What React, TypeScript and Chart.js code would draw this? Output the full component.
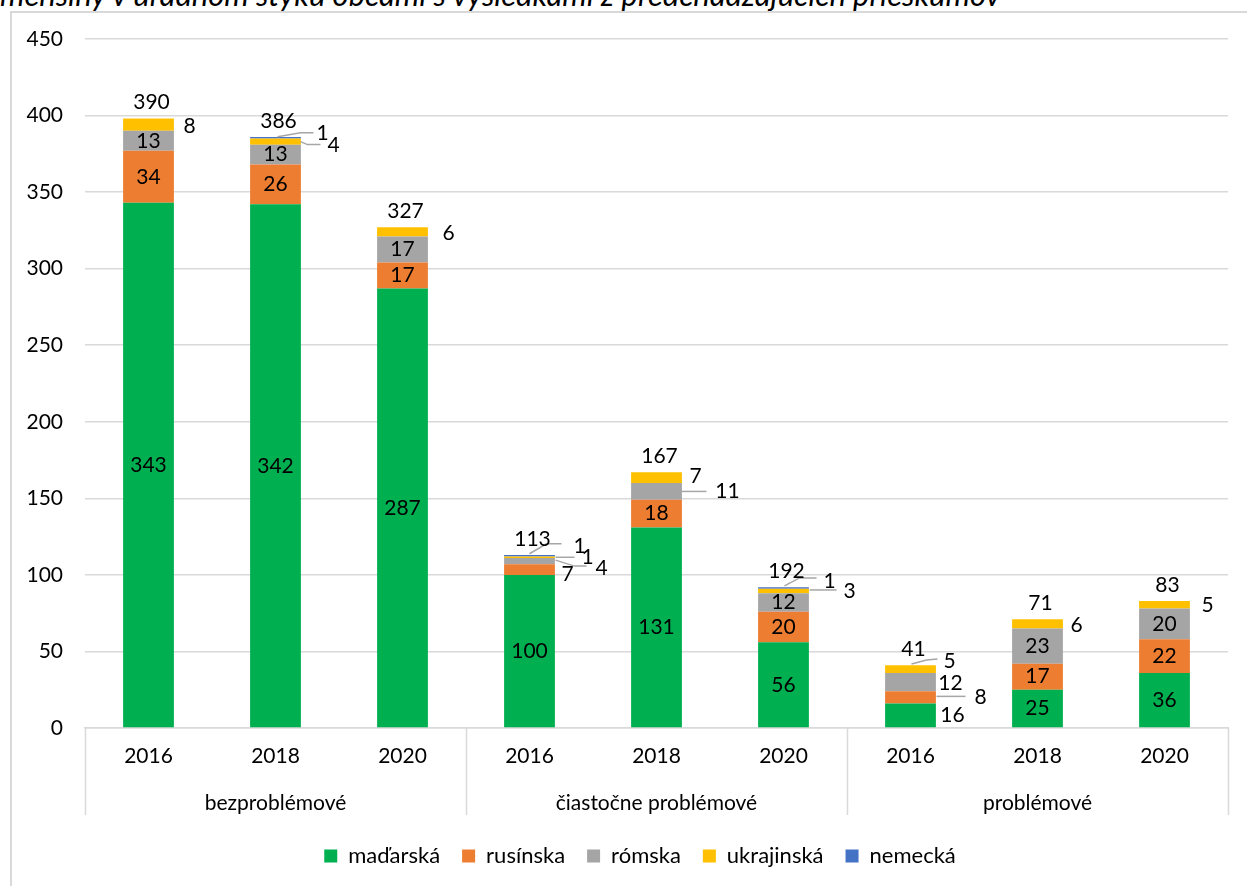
import React, { useEffect, useRef } from "react";
import { Chart, registerables } from "chart.js";

Chart.register(...registerables);

const TITLE = "menšiny v úradnom styku obcami s výsledkami z predchádzajúcich prieskumov";
const YEARS = ["2016", "2018", "2020", "2016", "2018", "2020", "2016", "2018", "2020"];
const GROUPS = ["bezproblémové", "čiastočne problémové", "problémové"];
const SERIES_NAMES = ["maďarská", "rusínska", "rómska", "ukrajinská", "nemecká"];
const MADARSKA = [343, 342, 287, 100, 131, 56, 16, 25, 36];
const RUSINSKA = [34, 26, 17, 7, 18, 20, 8, 17, 22];
const ROMSKA = [13, 13, 17, 4, 11, 12, 12, 23, 20];
const UKRAJINSKA = [8, 4, 6, 1, 7, 3, 5, 6, 5];
const NEMECKA = [0, 1, 0, 1, 0, 1, 0, 0, 0];
const TOTAL_LABELS = ["390", "386", "327", "113", "167", "192", "41", "71", "83"];
const Y_MAX = 450;
const Y_STEP = 50;

const COLORS = ["#00B050", "#ED7D31", "#A5A5A5", "#FFC000", "#4472C4"];
const FONT = "Lato, 'Open Sans', sans-serif";
const GRID = "#d9d9d9";
const LEADER = "#a6a6a6";
const FS = 21;

// label offsets (relative to bar centre x / segment centre y) for labels placed outside the bar
type Off = { dx: number; dy: number; leader?: number[][] };
const OUTSIDE: Record<string, Off> = {
  "3-0": { dx: 41, dy: 1 },
  "3-1": { dx: 58, dy: 4, leader: [[25, 0], [32, 3], [45, 3]] },
  "4-1": { dx: 47, dy: -5, leader: [[2, -1], [25, -5], [38, -5]] },
  "3-2": { dx: 46, dy: 1 },
  "1-3": { dx: 38, dy: 5 },
  "2-3": { dx: 72, dy: 7, leader: [[26, -1], [45, 5], [57, 5]] },
  "3-3": { dx: 58, dy: 0, leader: [[26, 0], [45, 0]] },
  "4-3": { dx: 50, dy: -10, leader: [[0, -2], [17, -12], [32, -12]] },
  "3-4": { dx: 39, dy: -1 },
  "2-4": { dx: 71, dy: 0, leader: [[25, 0], [50, 0]] },
  "3-5": { dx: 66, dy: 0, leader: [[26, -1], [53, -1]] },
  "4-5": { dx: 46, dy: -7, leader: [[1, -2], [16, -10], [33, -10]] },
  "3-6": { dx: 39, dy: -8, leader: [[1, -5], [16, -9], [27, -10]] },
  "2-6": { dx: 40, dy: 1 },
  "1-6": { dx: 70, dy: 0, leader: [[26, -1], [55, -1]] },
  "0-6": { dx: 42, dy: 0 },
  "3-7": { dx: 39, dy: 1 },
  "3-8": { dx: 43, dy: 0 },
};

const SERIES = [MADARSKA, RUSINSKA, ROMSKA, UKRAJINSKA, NEMECKA];

const labelsPlugin = {
  id: "valueLabels",
  afterLayout(chart: any) {
    // centre the legend under the whole frame like the original
    if (chart.legend) {
      chart.legend.left += 26;
      chart.legend.right += 26;
    }
  },
  afterDatasetsDraw(chart: any) {
    const ctx = chart.ctx;
    const yScale = chart.scales.y;
    ctx.save();
    ctx.font = `${FS}px ${FONT}`;
    ctx.fillStyle = "#000";
    ctx.textAlign = "center";
    ctx.textBaseline = "middle";
    chart.data.datasets.forEach((ds: any, i: number) => {
      const meta = chart.getDatasetMeta(i);
      meta.data.forEach((el: any, j: number) => {
        const v = ds.data[j];
        if (!v) return;
        const { x, y, base } = el.getProps(["x", "y", "base"], true);
        const cy = (y + base) / 2;
        const o = OUTSIDE[`${i}-${j}`];
        if (o) {
          if (o.leader) {
            ctx.save();
            ctx.strokeStyle = LEADER;
            ctx.lineWidth = 1.5;
            ctx.beginPath();
            o.leader.forEach((p, k) => {
              if (k === 0) ctx.moveTo(x + p[0], cy + p[1]);
              else ctx.lineTo(x + p[0], cy + p[1]);
            });
            ctx.stroke();
            ctx.restore();
          }
          ctx.fillText(String(v), x + o.dx, cy + o.dy);
        } else {
          ctx.fillText(String(v), x, cy);
        }
      });
    });
    // totals above each stack
    const meta0 = chart.getDatasetMeta(0);
    meta0.data.forEach((el: any, j: number) => {
      const sum = SERIES.reduce((s, arr) => s + arr[j], 0);
      const top = yScale.getPixelForValue(sum);
      ctx.fillText(TOTAL_LABELS[j], el.x + 3, top - 16);
    });
    ctx.restore();
  },
};

const groupAxisPlugin = {
  id: "groupAxis",
  afterDraw(chart: any) {
    const ctx = chart.ctx;
    const xs = chart.scales.x;
    const n = YEARS.length;
    const catW = (xs.right - xs.left) / n;
    const bottom = chart.chartArea.bottom;
    ctx.save();
    ctx.strokeStyle = GRID;
    ctx.lineWidth = 1.5;
    for (let k = 0; k <= GROUPS.length; k++) {
      const x = Math.round(xs.left + k * 3 * catW) + 0.5;
      ctx.beginPath();
      ctx.moveTo(x, bottom);
      ctx.lineTo(x, bottom + 87);
      ctx.stroke();
    }
    ctx.font = `${FS}px ${FONT}`;
    ctx.fillStyle = "#000";
    ctx.textAlign = "center";
    ctx.textBaseline = "middle";
    GROUPS.forEach((g, k) => {
      ctx.fillText(g, xs.left + (k * 3 + 1.5) * catW, bottom + 75);
    });
    ctx.restore();
  },
};

export default function App() {
  const ref = useRef<HTMLCanvasElement>(null);
  useEffect(() => {
    if (!ref.current) return;
    const chart = new Chart(ref.current, {
      type: "bar",
      data: {
        labels: YEARS,
        datasets: SERIES.map((arr, i) => ({
          label: SERIES_NAMES[i],
          data: arr,
          backgroundColor: COLORS[i],
          borderWidth: 0,
          categoryPercentage: 1,
          barPercentage: 0.4,
        })),
      },
      options: {
        responsive: false,
        animation: false,
        devicePixelRatio: 1,
        layout: { padding: { top: 39, right: 19, left: 0, bottom: 9 } },
        plugins: {
          tooltip: { enabled: false },
          legend: {
            position: "bottom",
            labels: {
              boxWidth: 13,
              boxHeight: 13,
              padding: 22,
              color: "#000",
              font: { family: FONT, size: 22 },
            },
          },
        },
        scales: {
          x: {
            stacked: true,
            grid: { display: false, drawTicks: false },
            border: { display: true, color: GRID, width: 1.5 },
            ticks: { color: "#000", font: { family: FONT, size: FS }, padding: 16, maxRotation: 0, autoSkip: false },
            afterFit: (s: any) => { s.height = 95; },
          },
          y: {
            stacked: true,
            min: 0,
            max: Y_MAX,
            grid: { color: GRID, lineWidth: 1.5, drawTicks: false },
            border: { display: false },
            ticks: { stepSize: Y_STEP, color: "#000", font: { family: FONT, size: FS }, padding: 22 },
            afterFit: (s: any) => { s.width = 85; },
          },
        },
      },
      plugins: [labelsPlugin, groupAxisPlugin],
    });
    return () => chart.destroy();
  }, []);

  return (
    <div style={{ position: "absolute", left: 0, top: 0, width: 1247, height: 886, overflow: "hidden", background: "#fff" }}>
      <div style={{ position: "absolute", left: 10, top: 11, width: 1400, height: 1000, border: `2px solid ${GRID}` }} />
      <div
        style={{
          position: "absolute",
          left: 0,
          top: -24,
          whiteSpace: "nowrap",
          fontFamily: FONT,
          fontStyle: "italic",
          fontSize: 31,
          lineHeight: "36px",
          color: "#000",
        }}
      >
        {TITLE}
      </div>
      <canvas ref={ref} width={1247} height={886} style={{ position: "absolute", left: 0, top: 0, width: 1247, height: 886 }} />
    </div>
  );
}
